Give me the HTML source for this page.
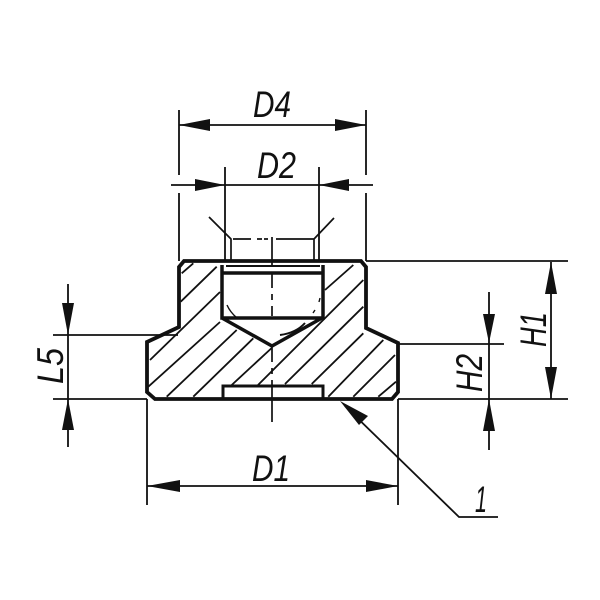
<!DOCTYPE html>
<html><head><meta charset="utf-8"><style>html,body{margin:0;padding:0;background:#fff;width:600px;height:600px;overflow:hidden}svg{display:block}text{font-family:"Liberation Sans",sans-serif;font-style:italic;fill:#111}</style></head>
<body>
<svg width="600" height="600" viewBox="0 0 600 600" xmlns="http://www.w3.org/2000/svg">
<g stroke="#111" stroke-width="1.8" fill="none">
<path d="M181.7 273.3L193.3 263.3M180.7 301.7L216.7 266.7M150 360L220 292M148.3 386.7L220 322M166.7 396.7L236.7 330M193.3 396.7L253.3 338.3M231.7 385L271.7 348M258 385L363.3 280M325 290L353.3 265M285 384L363.3 306.7M311.7 384L363.3 333.3M328.3 396.7L383.3 340M353.3 396.7L395 355M378.3 396.7L396 381.7"/>
</g>
<g stroke="#111" fill="none" stroke-linejoin="miter">
<path stroke-width="3.8" d="M184 261H361L366 267V328L398 343V392L392 399H155L147 392V342L179 327V267Z"/>
<path stroke-width="3.5" d="M222 265V318H323V265M222 273H323M222 318L272 346L322 318"/>
<path stroke-width="3" d="M223 399V386H323V399"/>
<path stroke-width="2" d="M226 266H320"/>
<path stroke-width="1.7" d="M209 217L231 239V261M334 218L314 239V261M233 239H251M257 239H262M264 239H268M276 239H314"/>
<path stroke-width="1.7" d="M272 237V266M272 274V288M272 294V300M272 306V316M272 346V362M272 368V374M272 380V422"/>
<path stroke-width="1.4" d="M227 305Q230 312 237 318M320 298L319 302M315 310L313 313"/>
<path stroke-width="2" d="M280 335Q296 333 305 323"/>
<path stroke-width="1.8" d="M179 110V175M179 193V261M366 110V175M366 193V261M225 167V261M319 167V261"/>
<path stroke-width="1.8" d="M179 125H366M171 185H373"/>
<path stroke-width="1.8" d="M53 335H178M53 399H147M68 284V447"/>
<path stroke-width="1.8" d="M366 261H568M398 344H504M398 399H568M551 262V399M489 292V450"/>
<path stroke-width="1.8" d="M147 399V505M398 399V505M147 486H398"/>
<path stroke-width="1.8" d="M345 406L459 517H498"/>
</g>
<g fill="#111">
<path d="M179 125L210 119V131ZM366 125L335 119V131Z"/>
<path d="M225 185L195 179V191ZM319 185L349 179V191Z"/>
<path d="M68 335L62 303H74ZM68 399L62 430H74Z"/>
<path d="M551 262L545 294H557ZM551 399L545 367H557Z"/>
<path d="M489 343L483 314H495ZM489 399L483 431H495Z"/>
<path d="M147 486L180 480V492ZM398 486L366 480V492Z"/>
<path d="M340 401L368 416L359 425Z"/>
</g>
<g font-size="37">
<text x="253" y="117" textLength="38" lengthAdjust="spacingAndGlyphs">D4</text>
<text x="257" y="178" textLength="39" lengthAdjust="spacingAndGlyphs">D2</text>
<text x="252" y="481" textLength="38" lengthAdjust="spacingAndGlyphs">D1</text>
<text x="475" y="512" textLength="12" lengthAdjust="spacingAndGlyphs">1</text>
<text transform="translate(63 384) rotate(-90)" textLength="36" lengthAdjust="spacingAndGlyphs">L5</text>
<text transform="translate(482 392) rotate(-90)" textLength="38" lengthAdjust="spacingAndGlyphs">H2</text>
<text transform="translate(546 347) rotate(-90)" textLength="35" lengthAdjust="spacingAndGlyphs">H1</text>
</g>
</svg>
</body></html>
